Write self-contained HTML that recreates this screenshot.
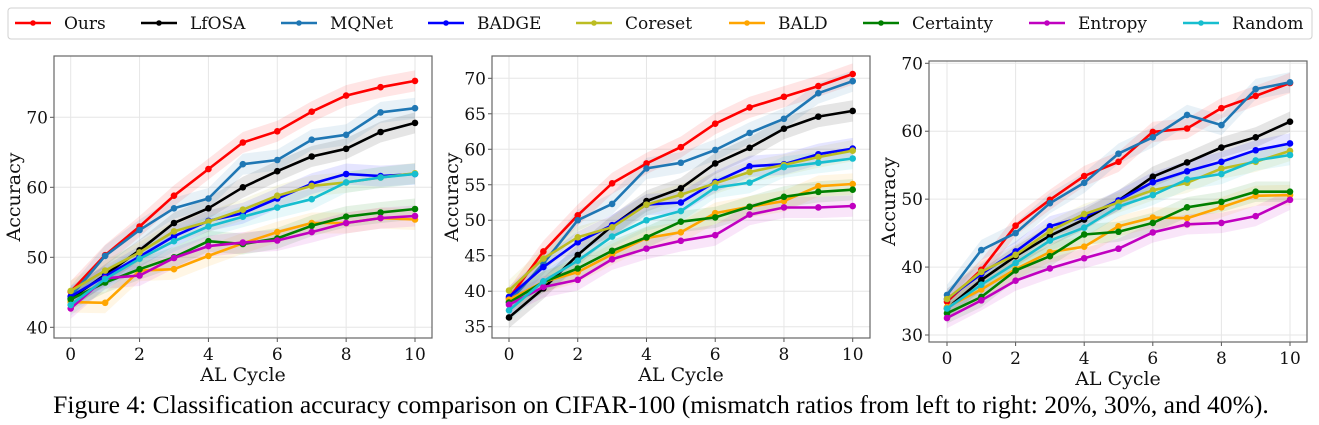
<!DOCTYPE html>
<html><head><meta charset="utf-8"><style>
body{margin:0;background:#fff;}
svg{display:block;font-family:"DejaVu Serif","Liberation Serif",serif;}
</style></head><body>
<svg id="chart" width="1319" height="425" viewBox="0 0 1319 425" xmlns="http://www.w3.org/2000/svg">
<g id="legend"></g>
<g id="panels"></g>
<text x="661" y="413" text-anchor="middle" font-family="Liberation Serif, serif" font-size="25.6" fill="#000">Figure 4: Classification accuracy comparison on CIFAR-100 (mismatch ratios from left to right: 20%, 30%, and 40%).</text>
</svg>
<script>
const cycles = [0,1,2,3,4,5,6,7,8,9,10];
const methods = ["Ours","LfOSA","MQNet","BADGE","Coreset","BALD","Certainty","Entropy","Random"];
const colors = ["#ff0000","#000000","#1f77b4","#0000ff","#bcbd22","#ffa500","#008000","#c000c0","#17becf"];
const p1Ours=[45.1,50.3,54.4,58.8,62.6,66.4,68.0,70.8,73.1,74.3,75.2];
const p1LfOSA=[44.1,47.5,51.0,54.9,57.0,60.0,62.3,64.4,65.5,67.9,69.2];
const p1MQNet=[44.4,50.2,53.9,57.0,58.4,63.3,63.9,66.8,67.5,70.7,71.3];
const p1BADGE=[44.4,47.3,50.1,53.0,55.2,56.3,58.4,60.5,61.9,61.6,61.9];
const p1Coreset=[45.2,48.1,50.7,53.7,55.1,56.8,58.8,60.2,60.7,61.4,62.0];
const p1BALD=[43.6,43.5,48.1,48.3,50.2,52.0,53.6,54.9,54.9,55.6,55.4];
const p1Certainty=[44.0,46.4,48.3,50.0,52.3,51.9,52.7,54.5,55.8,56.4,56.9];
const p1Entropy=[42.7,47.0,47.4,49.9,51.6,52.1,52.4,53.6,54.9,55.6,55.9];
const p1Random=[43.2,46.9,49.8,52.3,54.4,55.8,57.1,58.3,60.7,61.4,61.9];
const p2Ours=[39.0,45.6,50.7,55.2,58.0,60.3,63.6,65.9,67.4,68.9,70.6];
const p2LfOSA=[36.3,40.4,45.1,49.2,52.7,54.5,58.0,60.2,62.9,64.6,65.4];
const p2MQNet=[38.5,43.9,50.0,52.3,57.3,58.1,59.9,62.3,64.3,67.9,69.6];
const p2BADGE=[39.2,43.4,46.9,49.3,52.2,52.5,55.4,57.6,57.9,59.3,60.1];
const p2Coreset=[40.1,44.6,47.6,49.0,52.2,53.6,55.2,56.8,57.8,58.9,59.8];
const p2BALD=[38.8,41.3,42.7,45.2,47.5,48.3,51.0,51.9,52.7,54.8,55.1];
const p2Certainty=[38.4,41.3,43.2,45.7,47.6,49.8,50.4,51.9,53.3,54.0,54.3];
const p2Entropy=[38.1,40.6,41.6,44.5,46.0,47.1,47.9,50.8,51.8,51.8,52.0];
const p2Random=[37.3,41.4,44.3,47.7,50.0,51.3,54.6,55.3,57.5,58.1,58.7];
const p3Ours=[34.9,39.6,46.1,49.9,53.4,55.5,59.9,60.4,63.4,65.2,67.1];
const p3LfOSA=[33.9,38.1,41.6,44.6,47.0,49.8,53.3,55.4,57.6,59.1,61.4];
const p3MQNet=[35.9,42.5,45.0,49.4,52.4,56.7,59.1,62.4,60.9,66.2,67.2];
const p3BADGE=[35.3,39.0,42.3,46.0,47.4,49.8,52.5,54.1,55.5,57.2,58.2];
const p3Coreset=[35.3,39.3,41.8,45.3,47.8,49.5,51.3,52.4,54.5,55.5,57.1];
const p3BALD=[34.1,36.7,39.7,42.2,43.0,46.0,47.3,47.2,48.8,50.5,50.6];
const p3Certainty=[33.2,35.6,39.5,41.6,44.8,45.2,46.5,48.8,49.6,51.1,51.1];
const p3Entropy=[32.5,35.1,38.0,39.8,41.3,42.7,45.1,46.3,46.5,47.5,49.9];
const p3Random=[33.9,37.4,40.6,43.9,45.8,48.9,50.6,52.9,53.7,55.7,56.5];
const xTicks=[0,2,4,6,8,10];
const p1YTicks=[40,50,60,70];
const p2YTicks=[35,40,45,50,55,60,65,70];
const p3YTicks=[30,40,50,60,70];
const bandHalf=1.5;

const NS="http://www.w3.org/2000/svg";
function mk(tag,attrs,parent){const e=document.createElementNS(NS,tag);for(const k in attrs)e.setAttribute(k,attrs[k]);parent.appendChild(e);return e;}

const panels=[
 {name:"panel-20",series:[p1Ours,p1LfOSA,p1MQNet,p1BADGE,p1Coreset,p1BALD,p1Certainty,p1Entropy,p1Random],yt:p1YTicks,L:54,R:432,T:56,B:338,x0:70.7,x1:415,yv0:40,yp0:327.3,yv1:70,yp1:117.3},
 {name:"panel-30",series:[p2Ours,p2LfOSA,p2MQNet,p2BADGE,p2Coreset,p2BALD,p2Certainty,p2Entropy,p2Random],yt:p2YTicks,L:492,R:870,T:56,B:338,x0:509,x1:852.7,yv0:35,yp0:326.7,yv1:70,yp1:78.3},
 {name:"panel-40",series:[p3Ours,p3LfOSA,p3MQNet,p3BADGE,p3Coreset,p3BALD,p3Certainty,p3Entropy,p3Random],yt:p3YTicks,L:929,R:1307,T:61,B:342,x0:947,x1:1290,yv0:30,yp0:335,yv1:70,yp1:63.3}
];
const root=document.getElementById('panels');
panels.forEach(p=>{
 const g=mk('g',{},root);
 
 
 const xs=v=>p.x0+(p.x1-p.x0)*v/10;
 const ys=v=>p.yp0+(p.yp1-p.yp0)*(v-p.yv0)/(p.yv1-p.yv0);
 const cp='clip-'+p.name;
 const cl=mk('clipPath',{id:cp},g);mk('rect',{x:p.L,y:p.T,width:p.R-p.L,height:p.B-p.T},cl);
 xTicks.forEach(t=>{
  const l=mk('line',{x1:xs(t),x2:xs(t),y1:p.T,y2:p.B,stroke:'#e6e6e6','stroke-width':1},g);
  
  
  mk('line',{x1:xs(t),x2:xs(t),y1:p.B,y2:p.B+4,stroke:'#555'},g);
  const tx=mk('text',{x:xs(t),y:p.B+22,'text-anchor':'middle','font-size':17,fill:'#111'},g);tx.textContent=t;
  
  
 });
 p.yt.forEach(t=>{
  const l=mk('line',{x1:p.L,x2:p.R,y1:ys(t),y2:ys(t),stroke:'#e6e6e6','stroke-width':1},g);
  
  
  mk('line',{x1:p.L-4,x2:p.L,y1:ys(t),y2:ys(t),stroke:'#555'},g);
  const tx=mk('text',{x:p.L-6,y:ys(t)+6,'text-anchor':'end','font-size':17,fill:'#111'},g);tx.textContent=t;
  
  
 });
 const cg=mk('g',{'clip-path':'url(#'+cp+')'},g);
 p.series.forEach((s,i)=>{
  let d='';
  s.forEach((v,j)=>{d+=(j?'L':'M')+xs(cycles[j]).toFixed(1)+','+ys(v+bandHalf).toFixed(1);});
  for(let j=s.length-1;j>=0;j--)d+='L'+xs(cycles[j]).toFixed(1)+','+ys(s[j]-bandHalf).toFixed(1);
  const b=mk('path',{d:d+'Z',fill:colors[i],'fill-opacity':0.1,stroke:'none'},cg);
  
  
 });
 p.series.forEach((s,i)=>{
  const pts=s.map((v,j)=>xs(cycles[j]).toFixed(1)+','+ys(v).toFixed(1)).join(' ');
  const ln=mk('polyline',{points:pts,fill:'none',stroke:colors[i],'stroke-width':2.6,'stroke-linejoin':'round'},cg);
  
  
  s.forEach((v,j)=>{
   const c=mk('circle',{cx:xs(cycles[j]),cy:ys(v),r:3.3,fill:colors[i]},cg);
   
   
  });
 });
 const fr=mk('rect',{x:p.L,y:p.T,width:p.R-p.L,height:p.B-p.T,fill:'none',stroke:'#666','stroke-width':1.2},g);
 
 
 const xl=mk('text',{x:(p.L+p.R)/2,y:p.B+43,'text-anchor':'middle','font-size':19,fill:'#111'},g);xl.textContent='AL Cycle';
 
 
 const yc=(p.T+p.B)/2;
 const yl=mk('text',{x:p.L-34,y:yc,'text-anchor':'middle','font-size':19,fill:'#111',transform:'rotate(-90 '+(p.L-34)+' '+yc+')'},g);yl.textContent='Accuracy';
 
 
});
const lg=document.getElementById('legend');
const box=mk('rect',{x:8,y:8,width:1304,height:31,rx:3,fill:'#fff',stroke:'#d0d0d0','stroke-width':1},lg);


const legX=[15,141,281,428,576,729,863,1029,1183];
methods.forEach((m,i)=>{
 const e=mk('g',{},lg);
 
 
 mk('line',{x1:legX[i],x2:legX[i]+36,y1:23,y2:23,stroke:colors[i],'stroke-width':2.6},e);
 mk('circle',{cx:legX[i]+18,cy:23,r:2.8,fill:colors[i]},e);
 const t=mk('text',{x:legX[i]+49,y:29,'font-size':17,fill:'#111'},e);t.textContent=m;
});
</script>
</body></html>
